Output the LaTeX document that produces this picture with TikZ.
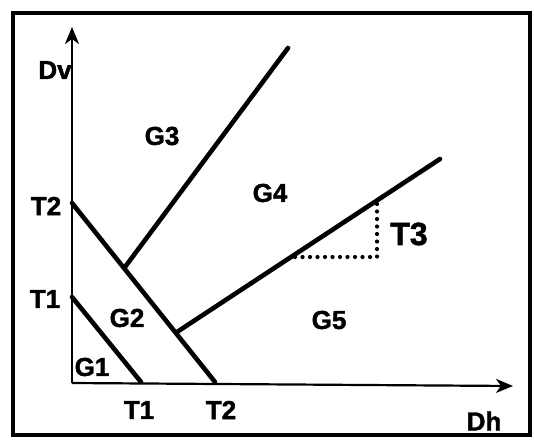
\documentclass[tikz,border=0pt]{standalone}
\usepackage{fontspec}
\setmainfont{Liberation Sans}[BoldFeatures={FakeBold=1.6}]
\usetikzlibrary{arrows.meta}
\begin{document}
\begin{tikzpicture}[x=1pt,y=-1pt,
  lbl/.style={font=\bfseries\fontsize{26}{26}\selectfont, inner sep=0pt},
  big/.style={font=\bfseries\fontsize{32}{32}\selectfont, inner sep=0pt},
  axis/.style={line width=2.2pt,-{Stealth[length=17pt,width=14pt,inset=5pt]}},
  bound/.style={line width=4.6pt, line cap=round},
  dots/.style={line width=4.2pt, line cap=round, dash pattern=on 0pt off 7.5pt}]
\useasboundingbox (0,0) rectangle (534,439);
\draw[line width=3.2pt] (13,13) rectangle (530,435);
% axes
\coordinate (O) at (72,383);
\coordinate (yend) at (72,27);
\coordinate (xend) at (513,386);
\draw[axis] (O) -- (yend);
\draw[axis] (O) -- (xend);
% boundary points
\coordinate (t2v) at (72,203);
\coordinate (t2h) at (215,382);
\coordinate (t1v) at (72,297);
\coordinate (t1h) at (141,382);
\coordinate (g3a) at (125,267);
\coordinate (g3b) at (288,48);
\coordinate (g4a) at (177,332);
\coordinate (g4b) at (440,159);
\coordinate (d1) at (295,257);
\coordinate (d2) at (377,257);
\coordinate (d3) at (377,200);
\draw[bound] (t2v) -- (t2h);
\draw[bound] (t1v) -- (t1h);
\draw[bound] (g3a) -- (g3b);
\draw[bound] (g4a) -- (g4b);
\draw[dots] (d1) -- (d2) -- (d3);
% labels
\node[lbl] (dv) at (55,70) {Dv};
\node[lbl] (lt2v) at (46,206) {T2};
\node[lbl] (lt1v) at (45,299) {T1};
\node[lbl] (lt1h) at (139,410) {T1};
\node[lbl] (lt2h) at (221,410) {T2};
\node[lbl] (dh) at (484,421) {Dh};
\node[lbl] (g1) at (92,367) {G1};
\node[lbl] (g2) at (127,318) {G2};
\node[lbl] (g3) at (162,136) {G3};
\node[lbl] (g4) at (270,193) {G4};
\node[lbl] (g5) at (329,320) {G5};
\node[big] (t3) at (409,234) {T3};
\end{tikzpicture}
\end{document}
